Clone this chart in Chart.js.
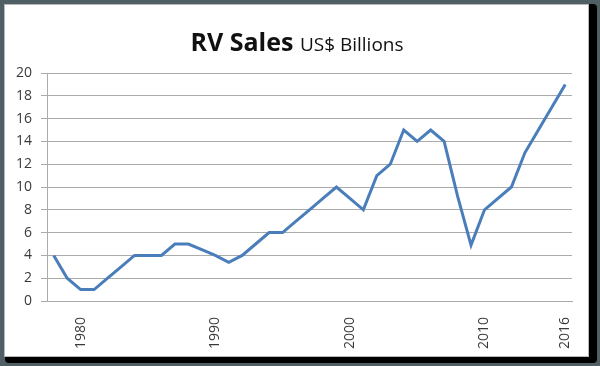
<!DOCTYPE html>
<html>
<head>
<meta charset="utf-8">
<script src="https://cdn.jsdelivr.net/npm/chart.js@4"></script>
<style>
  html, body { margin: 0; padding: 0; }
  body { width: 600px; height: 366px; background: #4f5f63; position: relative; overflow: hidden; }
  #shadow { position: absolute; left: 5px; top: 4px; width: 592px; height: 359px; background: #000; border-radius: 4px; }
  #card { position: absolute; left: 4px; top: 4px; width: 583px; height: 351px; background: #fff; border: 1px solid #b8b8b8; }
  #wrap { position: absolute; left: 0; top: 0; width: 600px; height: 366px; }
</style>
</head>
<body>
<div id="shadow"></div>
<div id="card"></div>
<div id="wrap"><canvas id="c" width="600" height="366"></canvas></div>
<script>
const years = [1978,1979,1980,1981,1982,1983,1984,1985,1986,1987,1988,1989,1990,1991,1992,1993,1994,1995,1996,1997,1998,1999,2000,2001,2002,2003,2004,2005,2006,2007,2008,2009,2010,2011,2012,2013,2014,2015,2016];
const salesBillions = [4,2,1,1,2,3,4,4,4,5,5,4.5,4,3.4,4,5,6,6,7,8,9,10,9,8,11,12,15,14,15,14,9.2,4.9,8,9,10,13,15,17,19];
const shownYearLabels = [1980,1990,2000,2010,2016];
const titleBold = "RV Sales";
const titleRest = "US$ Billions";

const FONT = "'Open Sans', 'Liberation Sans', sans-serif";
const TEXT = '#3a3a3a';
const GRID = '#ababab';

const titlePlugin = {
  id: 'mixedTitle',
  afterDraw(chart) {
    const ctx = chart.ctx;
    ctx.save();
    ctx.fillStyle = '#111';
    ctx.textBaseline = 'alphabetic';
    const f1 = "bold 25px " + FONT;
    const f2 = "19px " + FONT;
    ctx.font = f1; const w1 = ctx.measureText(titleBold + " ").width;
    ctx.font = f2; const w2 = ctx.measureText(titleRest).width;
    const cx = 297;
    let x = cx - (w1 + w2) / 2;
    ctx.font = f1; ctx.textAlign = 'left';
    ctx.fillText(titleBold, x, 51);
    ctx.font = f2;
    ctx.fillText(titleRest, x + w1, 51);
    ctx.restore();
  }
};

new Chart(document.getElementById('c'), {
  type: 'line',
  data: {
    labels: years.map(String),
    datasets: [{
      data: salesBillions,
      borderColor: '#4a7ebb',
      borderWidth: 3,
      pointRadius: 0,
      tension: 0,
      fill: false
    }]
  },
  options: {
    responsive: false,
    animation: false,
    events: [],
    layout: { padding: { left: 0, right: 28, top: 73, bottom: 0 } },
    plugins: { legend: { display: false }, title: { display: false }, tooltip: { enabled: false } },
    scales: {
      x: {
        type: 'category',
        offset: true,
        grid: { display: false },
        border: { display: true, color: GRID, width: 1 },
        ticks: {
          autoSkip: false,
          minRotation: 90,
          maxRotation: 90,
          padding: 8,
          color: TEXT,
          font: { family: FONT, size: 14 },
          callback: function(value, index) {
            const y = years[index];
            return shownYearLabels.includes(y) ? String(y) : '';
          }
        },
        afterFit(scale) { scale.height = 65; }
      },
      y: {
        min: 0,
        max: 20,
        grid: { color: GRID, lineWidth: 1, tickLength: 6, drawTicks: true },
        border: { display: true, color: GRID, width: 1 },
        ticks: {
          stepSize: 2,
          padding: 9,
          color: TEXT,
          font: { family: FONT, size: 14 }
        },
        afterFit(scale) { scale.width = 47; }
      }
    }
  },
  plugins: [titlePlugin]
});
</script>
</body>
</html>
